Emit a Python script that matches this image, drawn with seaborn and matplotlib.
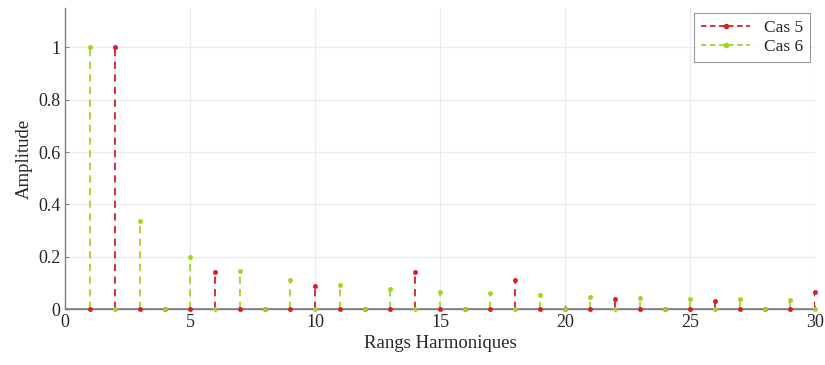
import numpy as np
import pandas as pd
import matplotlib
matplotlib.use("Agg")
import matplotlib.pyplot as plt
import seaborn as sns
from matplotlib.lines import Line2D

harmonics = list(range(1, 31))
cas5 = [0, 1.0, 0, 0, 0, 0.14, 0, 0, 0, 0.088, 0, 0, 0, 0.142, 0, 0, 0, 0.11,
        0, 0, 0, 0.037, 0, 0, 0, 0.032, 0, 0, 0, 0.066]
cas6 = [1.0, 0, 0.335, 0, 0.2, 0, 0.145, 0, 0.11, 0, 0.093, 0, 0.078, 0, 0.066, 0,
        0.06, 0, 0.053, 0, 0.047, 0, 0.044, 0, 0.039, 0, 0.037, 0, 0.034, 0]
series_names = ["Cas 5", "Cas 6"]
colors = {"Cas 5": "#dc1a2c", "Cas 6": "#9fd623"}

df = pd.DataFrame({"Rang": harmonics * 2,
                   "Amplitude": cas5 + cas6,
                   "Cas": ["Cas 5"] * 30 + ["Cas 6"] * 30})

sns.set_style("whitegrid", {"grid.color": "#ebebeb", "axes.edgecolor": "#808080"})
plt.rcParams["font.family"] = ["Liberation Serif", "DejaVu Serif"]

fig, ax = plt.subplots(figsize=(8.25, 3.65), dpi=100)
fig.subplots_adjust(left=0.079, right=0.988, top=0.978, bottom=0.153)

for name in series_names:
    sub = df[df["Cas"] == name]
    ax.vlines(sub["Rang"], 0, sub["Amplitude"], colors=colors[name],
              linestyles=(0, (4, 3)), linewidth=1.3, zorder=3)
    sns.scatterplot(data=sub, x="Rang", y="Amplitude", color=colors[name],
                    s=9, edgecolor=colors[name], linewidth=0.5, ax=ax, zorder=4,
                    legend=False, clip_on=False)

ax.axhline(0, color="#808080", linewidth=1.2, zorder=2)

ax.set_xlim(0, 30)
ax.set_ylim(0, 1.15)
ax.set_xticks([0, 5, 10, 15, 20, 25, 30])
ax.set_yticks([0, 0.2, 0.4, 0.6, 0.8, 1])
ax.set_yticklabels(["0", "0.2", "0.4", "0.6", "0.8", "1"])
ax.tick_params(labelsize=13, colors="#262626", direction="in", length=3,
               left=True, bottom=True, color="#808080")
ax.set_xlabel("Rangs Harmoniques", fontsize=13.5, labelpad=3)
ax.set_ylabel("Amplitude", fontsize=13.5, labelpad=4)
for s in ["top", "right"]:
    ax.spines[s].set_visible(False)
for s in ["left", "bottom"]:
    ax.spines[s].set_linewidth(1.0)

handles = [Line2D([0], [0], color=colors[n], linestyle=(0, (3, 2)), linewidth=1.3,
                  marker="o", markersize=3, markevery=[1]) for n in series_names]
leg = ax.legend(handles, series_names, loc="upper right", fontsize=12.5,
                frameon=True, fancybox=False, edgecolor="#808080",
                borderaxespad=0.3, handlelength=2.8, labelspacing=0.15)
leg.get_frame().set_linewidth(0.8)

fig.savefig("out.png", dpi=100)
